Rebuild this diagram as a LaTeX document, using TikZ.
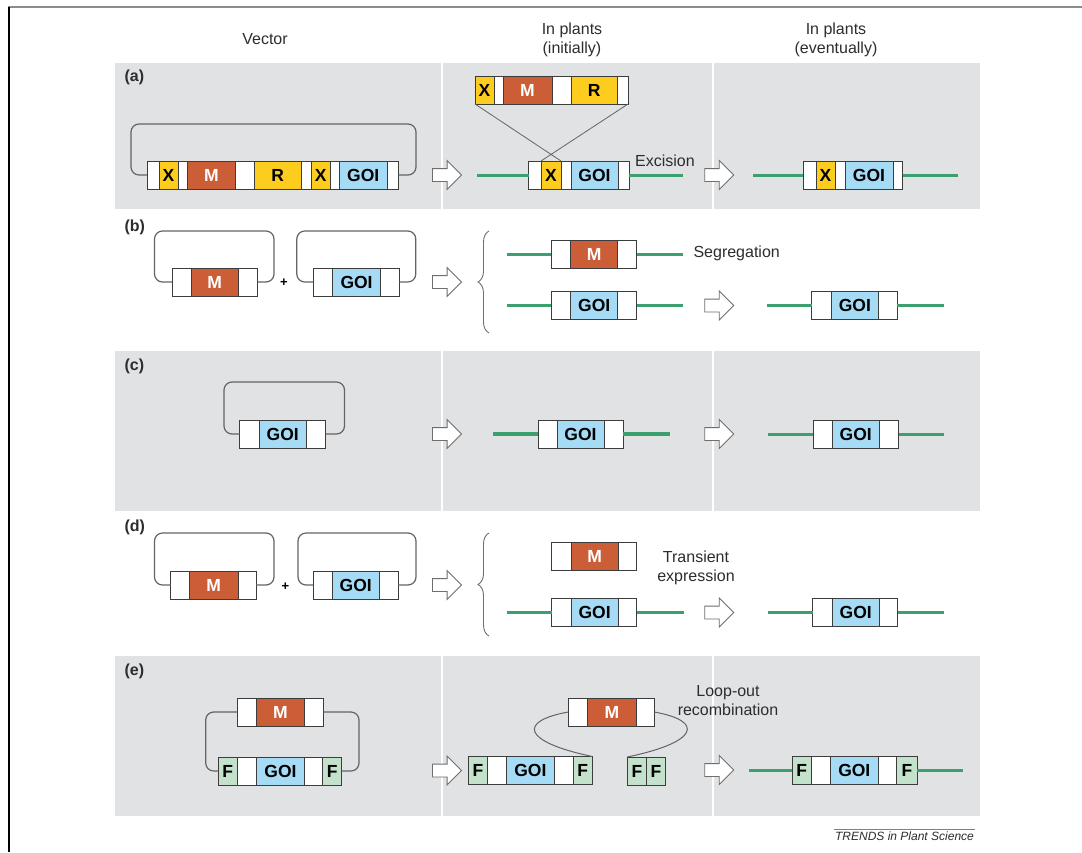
\documentclass[tikz,border=0pt]{standalone}
\usepackage{fontspec}
\setmainfont{Liberation Sans}
\usetikzlibrary{positioning,shapes.arrows,decorations.pathreplacing}

\definecolor{panelgray}{RGB}{225,226,228}
\definecolor{boxline}{RGB}{60,60,60}
\definecolor{loopgray}{RGB}{100,100,100}
\definecolor{arrowgray}{RGB}{110,110,110}
\definecolor{mred}{RGB}{203,94,55}
\definecolor{xyellow}{RGB}{252,204,30}
\definecolor{goiblue}{RGB}{166,219,245}
\definecolor{fgreen}{RGB}{195,225,203}
\definecolor{dnagreen}{RGB}{60,160,110}
\definecolor{labelgray}{RGB}{45,45,45}

\tikzset{
  seg/.style={draw=boxline, line width=0.9pt, minimum height=28, inner sep=0pt, outer sep=0pt,
    font=\bfseries\fontsize{17.5}{17.5}\selectfont},
  wseg/.style={seg, fill=white},
  xseg/.style={seg, fill=xyellow},
  mseg/.style={seg, fill=mred, text=white},
  gseg/.style={seg, fill=goiblue},
  fseg/.style={seg, fill=fgreen},
  dna/.style={dnagreen, line width=3pt},
  plasmid/.style={loopgray, line width=1.2pt, rounded corners=8pt},
  stepArrow/.style={single arrow, draw=arrowgray, fill=white, line width=0.9pt, inner sep=0pt,
    inner ysep=6pt, minimum height=29, single arrow head extend=8pt},
  lbl/.style={font=\fontsize{16}{19}\selectfont, text=labelgray},
  panel/.style={font=\bfseries\fontsize{16}{19}\selectfont, text=labelgray, anchor=west}
}

\begin{document}
\begin{tikzpicture}[x=1pt,y=-1pt]

\useasboundingbox (0,0) rectangle (1082,852);
\fill[white] (0,0) rectangle (1082,852);

% frame
\draw[gray!90, line width=1.5pt] (8,7) -- (1082,7);
\draw[black, line width=2pt] (9,7) -- (9,852);

% column heads
\node[lbl] (hv) at (265,39) {Vector};
\node[lbl, align=center] (hi) at (572,39.5) {In plants\\(initially)};
\node[lbl, align=center] (he) at (836,39.5) {In plants\\(eventually)};

% grey panels
\fill[panelgray] (115,63) rectangle (980,209);
\fill[panelgray] (115,351) rectangle (980,511);
\fill[panelgray] (115,656) rectangle (980,815.5);
\draw[white, line width=1.5pt] (442,63) -- (442,209) (713,63) -- (713,209);
\draw[white, line width=1.5pt] (442,351) -- (442,511) (713,351) -- (713,511);
\draw[white, line width=1.5pt] (442,656) -- (442,815.5) (713,656) -- (713,815.5);

%%% (a)
\node[panel] (la) at (121,77) {(a)};

\node[wseg, minimum width=12, anchor=west] (av1) at (147,175) {};
\node[xseg, minimum width=19, right=0pt of av1] (av2) {X};
\node[wseg, minimum width=9.5, right=0pt of av2] (av3) {};
\node[mseg, minimum width=48, right=0pt of av3] (av4) {M};
\node[wseg, minimum width=19, right=0pt of av4] (av5) {};
\node[xseg, minimum width=46.5, right=0pt of av5] (av6) {R};
\node[wseg, minimum width=10, right=0pt of av6] (av7) {};
\node[xseg, minimum width=19.5, right=0pt of av7] (av8) {X};
\node[wseg, minimum width=9, right=0pt of av8] (av9) {};
\node[gseg, minimum width=47.5, right=0pt of av9] (av10) {GOI};
\node[wseg, minimum width=11.5, right=0pt of av10] (av11) {};
\draw[plasmid] (av1.west) -| ++(-16,-51) -| ([xshift=17.5pt]av11.east) -- (av11.east);

\node[stepArrow] (arA1) at (443.8,175) {};

\node[xseg, minimum width=19, anchor=west] (at1) at (475,90) {X};
\node[wseg, minimum width=9, right=0pt of at1] (at2) {};
\node[mseg, minimum width=49, right=0pt of at2] (at3) {M};
\node[wseg, minimum width=19, right=0pt of at3] (at4) {};
\node[xseg, minimum width=46.5, right=0pt of at4] (at5) {R};
\node[wseg, minimum width=10.5, right=0pt of at5] (at6) {};

\coordinate (ail) at (477,175);
\coordinate (air) at (683,175);
\node[wseg, minimum width=12.5, anchor=west] (ai1) at (528.5,175) {};
\node[xseg, minimum width=20, right=0pt of ai1] (ai2) {X};
\node[wseg, minimum width=10, right=0pt of ai2] (ai3) {};
\node[gseg, minimum width=47, right=0pt of ai3] (ai4) {GOI};
\node[wseg, minimum width=11, right=0pt of ai4] (ai5) {};
\draw[dna] (ail) -- (ai1.west) (ai5.east) -- (air);
\draw[loopgray, line width=0.8pt] (at1.south west) -- (ai2.north east) (at6.south east) -- (ai2.north west);
\node[lbl] (exc) at (665,161) {Excision};

\node[stepArrow] (arA2) at (716,175) {};

\coordinate (ael) at (753,175);
\coordinate (aer) at (958,175);
\node[wseg, minimum width=13, anchor=west] (ae1) at (803,175) {};
\node[xseg, minimum width=19, right=0pt of ae1] (ae2) {X};
\node[wseg, minimum width=10, right=0pt of ae2] (ae3) {};
\node[gseg, minimum width=48, right=0pt of ae3] (ae4) {GOI};
\node[wseg, minimum width=9.5, right=0pt of ae4] (ae5) {};
\draw[dna] (ael) -- (ae1.west) (ae5.east) -- (aer);

%%% (b)
\node[panel] (lb) at (121,227) {(b)};

\node[wseg, minimum width=19.5, anchor=west] (bm1) at (172,282) {};
\node[mseg, minimum width=46.5, right=0pt of bm1] (bm2) {M};
\node[wseg, minimum width=19.5, right=0pt of bm2] (bm3) {};
\draw[plasmid] (bm1.west) -| ++(-17.5,-51) -| ([xshift=16.5pt]bm3.east) -- (bm3.east);
\node[font=\bfseries\fontsize{13}{13}\selectfont] (bplus) at (284,283) {+};
\node[wseg, minimum width=19.5, anchor=west] (bg1) at (313.3,282) {};
\node[gseg, minimum width=47.5, right=0pt of bg1] (bg2) {GOI};
\node[wseg, minimum width=19, right=0pt of bg2] (bg3) {};
\draw[plasmid] (bg1.west) -| ++(-16.5,-51) -| ([xshift=16.5pt]bg3.east) -- (bg3.east);

\node[stepArrow] (arB1) at (443.8,282) {};
\draw[arrowgray, line width=0.9pt, decorate, decoration={brace, amplitude=11pt}] (489,333) -- (489,231);

\coordinate (bsl) at (507,254.5);
\coordinate (bsr) at (683,254.5);
\node[wseg, minimum width=19.3, anchor=west] (bs1) at (551.4,254.5) {};
\node[mseg, minimum width=47, right=0pt of bs1] (bs2) {M};
\node[wseg, minimum width=19, right=0pt of bs2] (bs3) {};
\draw[dna] (bsl) -- (bs1.west) (bs3.east) -- (bsr);
\node[lbl, anchor=west] (sgr) at (690,253) {Segregation};

\coordinate (bil) at (507,305.5);
\coordinate (bir) at (683,305.5);
\node[wseg, minimum width=19.3, anchor=west] (bi1) at (551.4,305.5) {};
\node[gseg, minimum width=47, right=0pt of bi1] (bi2) {GOI};
\node[wseg, minimum width=19, right=0pt of bi2] (bi3) {};
\draw[dna] (bil) -- (bi1.west) (bi3.east) -- (bir);

\node[stepArrow] (arB2) at (716,305.5) {};

\coordinate (bel) at (767,305.5);
\coordinate (ber) at (943.6,305.5);
\node[wseg, minimum width=19.6, anchor=west] (be1) at (811.8,305.5) {};
\node[gseg, minimum width=47, right=0pt of be1] (be2) {GOI};
\node[wseg, minimum width=19, right=0pt of be2] (be3) {};
\draw[dna] (bel) -- (be1.west) (be3.east) -- (ber);

%%% (c)
\node[panel] (lc) at (121,366) {(c)};

\node[wseg, minimum width=19.5, anchor=west] (cg1) at (239.5,434) {};
\node[gseg, minimum width=47.5, right=0pt of cg1] (cg2) {GOI};
\node[wseg, minimum width=19, right=0pt of cg2] (cg3) {};
\draw[plasmid] (cg1.west) -| ++(-15.5,-52) -| ([xshift=19pt]cg3.east) -- (cg3.east);

\node[stepArrow] (arC1) at (443.8,434) {};

\coordinate (cil) at (493,434);
\coordinate (cir) at (670,434);
\node[wseg, minimum width=19, anchor=west] (ci1) at (538,434) {};
\node[gseg, minimum width=47, right=0pt of ci1] (ci2) {GOI};
\node[wseg, minimum width=19, right=0pt of ci2] (ci3) {};
\draw[dna, line width=3.5pt] (cil) -- (ci1.west) (ci3.east) -- (cir);

\node[stepArrow] (arC2) at (716,434) {};

\coordinate (cel) at (768,434);
\coordinate (cer) at (944,434);
\node[wseg, minimum width=19, anchor=west] (ce1) at (813,434) {};
\node[gseg, minimum width=47.5, right=0pt of ce1] (ce2) {GOI};
\node[wseg, minimum width=19, right=0pt of ce2] (ce3) {};
\draw[dna] (cel) -- (ce1.west) (ce3.east) -- (cer);

%%% (d)
\node[panel] (ld) at (121,527) {(d)};

\node[wseg, minimum width=19, anchor=west] (dm1) at (170.5,585) {};
\node[mseg, minimum width=48.5, right=0pt of dm1] (dm2) {M};
\node[wseg, minimum width=18, right=0pt of dm2] (dm3) {};
\draw[plasmid] (dm1.west) -| ++(-16,-52) -| ([xshift=18pt]dm3.east) -- (dm3.east);
\node[font=\bfseries\fontsize{13}{13}\selectfont] (dplus) at (285.5,587) {+};
\node[wseg, minimum width=19, anchor=west] (dg1) at (313,585) {};
\node[gseg, minimum width=47.5, right=0pt of dg1] (dg2) {GOI};
\node[wseg, minimum width=18.5, right=0pt of dg2] (dg3) {};
\draw[plasmid] (dg1.west) -| ++(-15,-52) -| ([xshift=18pt]dg3.east) -- (dg3.east);

\node[stepArrow] (arD1) at (443.8,585) {};
\draw[arrowgray, line width=0.9pt, decorate, decoration={brace, amplitude=11pt}] (489,636) -- (489,533);

\node[wseg, minimum width=19.3, anchor=west] (dt1) at (551.7,556.7) {};
\node[mseg, minimum width=47.3, right=0pt of dt1] (dt2) {M};
\node[wseg, minimum width=18.4, right=0pt of dt2] (dt3) {};
\node[lbl, align=center] (trn) at (696,568) {Transient\\expression};

\coordinate (dil) at (507,612.5);
\coordinate (dir) at (684,612.5);
\node[wseg, minimum width=19.3, anchor=west] (di1) at (551.7,612.5) {};
\node[gseg, minimum width=47.3, right=0pt of di1] (di2) {GOI};
\node[wseg, minimum width=18.4, right=0pt of di2] (di3) {};
\draw[dna] (dil) -- (di1.west) (di3.east) -- (dir);

\node[stepArrow] (arD2) at (716,612.5) {};

\coordinate (del) at (768,612.5);
\coordinate (der) at (944.4,612.5);
\node[wseg, minimum width=19.2, anchor=west] (de1) at (812.8,612.5) {};
\node[gseg, minimum width=47.4, right=0pt of de1] (de2) {GOI};
\node[wseg, minimum width=18.4, right=0pt of de2] (de3) {};
\draw[dna] (del) -- (de1.west) (de3.east) -- (der);

%%% (e)
\node[panel] (le) at (121,671) {(e)};

\node[wseg, minimum width=19.4, anchor=west] (em1) at (237.3,712) {};
\node[mseg, minimum width=47.6, right=0pt of em1] (em2) {M};
\node[wseg, minimum width=19, right=0pt of em2] (em3) {};
\node[fseg, minimum width=19, anchor=west] (ev1) at (218.3,771) {F};
\node[wseg, minimum width=19.4, right=0pt of ev1] (ev2) {};
\node[gseg, minimum width=47.6, right=0pt of ev2] (ev3) {GOI};
\node[wseg, minimum width=18.4, right=0pt of ev3] (ev4) {};
\node[fseg, minimum width=19, right=0pt of ev4] (ev5) {F};
\draw[plasmid] (em1.west) -- ++(-31.6,0) |- (ev1.west);
\draw[plasmid] (em3.east) -- ++(35.7,0) |- (ev5.east);

\node[stepArrow] (arE1) at (443.8,770.5) {};

\node[fseg, minimum width=19.4, anchor=west] (ex1) at (468.3,770.5) {F};
\node[wseg, minimum width=19, right=0pt of ex1] (ex2) {};
\node[gseg, minimum width=47.3, right=0pt of ex2] (ex3) {GOI};
\node[wseg, minimum width=19, right=0pt of ex3] (ex4) {};
\node[fseg, minimum width=19.3, right=0pt of ex4] (ex5) {F};
\node[fseg, minimum width=19.4, anchor=west] (eff1) at (627.3,771) {F};
\node[fseg, minimum width=18.4, right=0pt of eff1] (eff2) {F};
\node[wseg, minimum width=19.4, anchor=west] (eo1) at (568.3,712) {};
\node[mseg, minimum width=48.3, right=0pt of eo1] (eo2) {M};
\node[wseg, minimum width=18.3, right=0pt of eo2] (eo3) {};
\draw[loopgray, line width=1pt] (eo1.west) .. controls +(-50,9) and +(-71,-15) .. (ex5.north east);
\draw[loopgray, line width=1pt] (eo3.east) .. controls +(50,9) and +(72,-15) .. (eff1.north west);
\node[lbl, align=center] (lor) at (728,701) {Loop-out\\recombination};

\node[stepArrow] (arE2) at (716,770) {};

\coordinate (eel) at (749,770);
\coordinate (eer) at (962.7,770);
\node[fseg, minimum width=19, anchor=west] (ee1) at (792.3,770) {F};
\node[wseg, minimum width=19, right=0pt of ee1] (ee2) {};
\node[gseg, minimum width=48, right=0pt of ee2] (ee3) {GOI};
\node[wseg, minimum width=18.4, right=0pt of ee3] (ee4) {};
\node[fseg, minimum width=20.6, right=0pt of ee4] (ee5) {F};
\draw[dna] (eel) -- (ee1.west) (ee5.east) -- (eer);

% credit
\draw[gray, line width=0.8pt] (834,829) -- (975,829);
\node[font=\itshape\fontsize{12}{14}\selectfont, text=labelgray] (trends) at (904.5,836.5) {TRENDS in Plant Science};

\end{tikzpicture}
\end{document}
